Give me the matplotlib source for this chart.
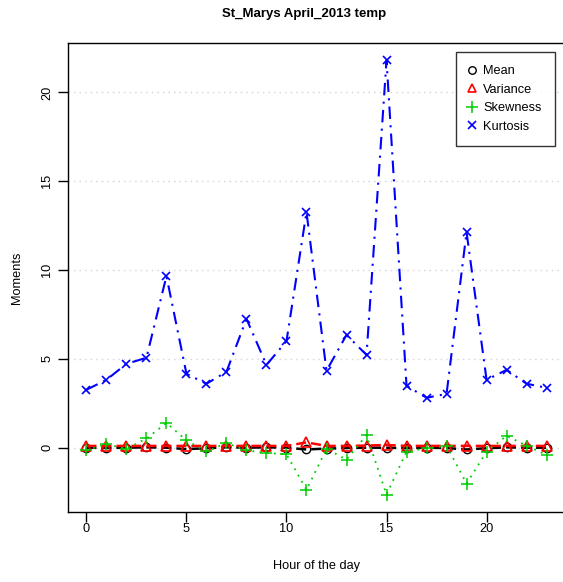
import matplotlib
matplotlib.use("Agg")
import matplotlib.pyplot as plt
import numpy as np

hours = list(range(24))
mean_vals = [0.0, -0.02, 0.0, 0.02, 0.0, -0.08, -0.03, 0.02, 0.0, 0.02, 0.0, -0.1,
             -0.05, -0.02, 0.0, 0.0, -0.03, 0.0, -0.02, -0.1, -0.03, 0.02, 0.0, 0.0]
variance_vals = [0.1, 0.1, 0.1, 0.1, 0.1, 0.1, 0.1, 0.1, 0.1, 0.1, 0.1, 0.3,
                 0.1, 0.1, 0.12, 0.15, 0.1, 0.1, 0.1, 0.1, 0.1, 0.1, 0.1, 0.1]
skewness_vals = [-0.15, 0.2, -0.07, 0.52, 1.39, 0.41, -0.21, 0.26, -0.15, -0.3, -0.37, -2.37,
                 -0.07, -0.67, 0.71, -2.64, -0.22, -0.04, 0.11, -2.02, -0.22, 0.67, 0.11, -0.41]
kurtosis_vals = [3.26, 3.82, 4.72, 5.06, 9.66, 4.16, 3.6, 4.27, 7.25, 4.66, 6.0, 13.26,
                 4.33, 6.35, 5.22, 21.8, 3.48, 2.81, 3.03, 12.13, 3.82, 4.38, 3.6, 3.37]

plt.rcParams['font.family'] = ['Liberation Sans', 'DejaVu Sans']

W, H = 563, 582
fig = plt.figure(figsize=(W / 100, H / 100), dpi=100)
# plot box: left 68, top 43, bottom 512, right runs past the image edge
ax = fig.add_axes([68 / W, 1 - 512 / H, (565 - 68) / W, (512 - 43) / H])

ax.plot(hours, mean_vals, color='black', linestyle=(0, (4, 2)), linewidth=1.8,
        marker='o', markersize=6, markerfacecolor='none', markeredgewidth=1.0,
        label='Mean', zorder=3)
ax.plot(hours, variance_vals, color='red', linestyle=(0, (4, 2)), linewidth=1.8,
        marker='^', markersize=6.5, markerfacecolor='none', markeredgewidth=1.2,
        label='Variance', zorder=4)
ax.plot(hours, skewness_vals, color='#00CD00', linestyle=(0, (1, 3)), linewidth=1.3,
        marker='+', markersize=9, markeredgewidth=1.1,
        label='Skewness', zorder=5)
ax.plot(hours, kurtosis_vals, color='blue', linestyle=(0, (6, 3, 1, 3)), linewidth=1.5,
        marker='x', markersize=6, markeredgewidth=1.2,
        label='Kurtosis', zorder=6)

ax.set_xlim(-0.92, 23.92)
ax.set_ylim(-3.62, 22.78)
ax.set_xticks([0, 5, 10, 15, 20])
ax.set_yticks([0, 5, 10, 15, 20])
ax.tick_params(direction='out', length=7, width=1, labelsize=9.2)
ax.tick_params(axis='x', pad=1)
ax.tick_params(axis='y', pad=8)
for lab in ax.get_yticklabels():
    lab.set_rotation(90)
    lab.set_va('center')
    lab.set_ha('center')
ax.grid(axis='y', color='lightgray', linestyle=(0, (1, 3)), linewidth=1)
ax.set_axisbelow(True)
for s in ax.spines.values():
    s.set_linewidth(1)

ax.set_xlabel('Hour of the day', fontsize=9.2, labelpad=18)
ax.set_ylabel('Moments', fontsize=9.2, labelpad=13)
fig.text(304 / W, 1 - 14 / H, 'St_Marys April_2013 temp', ha='center', va='center',
         fontsize=9.5, fontweight='bold')

leg = ax.legend(loc='upper right', bbox_to_anchor=((555 - 68) / (565 - 68), 1 - 9 / 469),
                borderaxespad=0, fontsize=9.2, frameon=True, fancybox=False,
                edgecolor='black', handlelength=0.3, handletextpad=0.75,
                borderpad=1.05, labelspacing=0.5, markerscale=0.9)
leg.get_frame().set_linewidth(1)
for line in leg.get_lines():
    line.set_linestyle('none')

fig.savefig('out.png', dpi=100)
